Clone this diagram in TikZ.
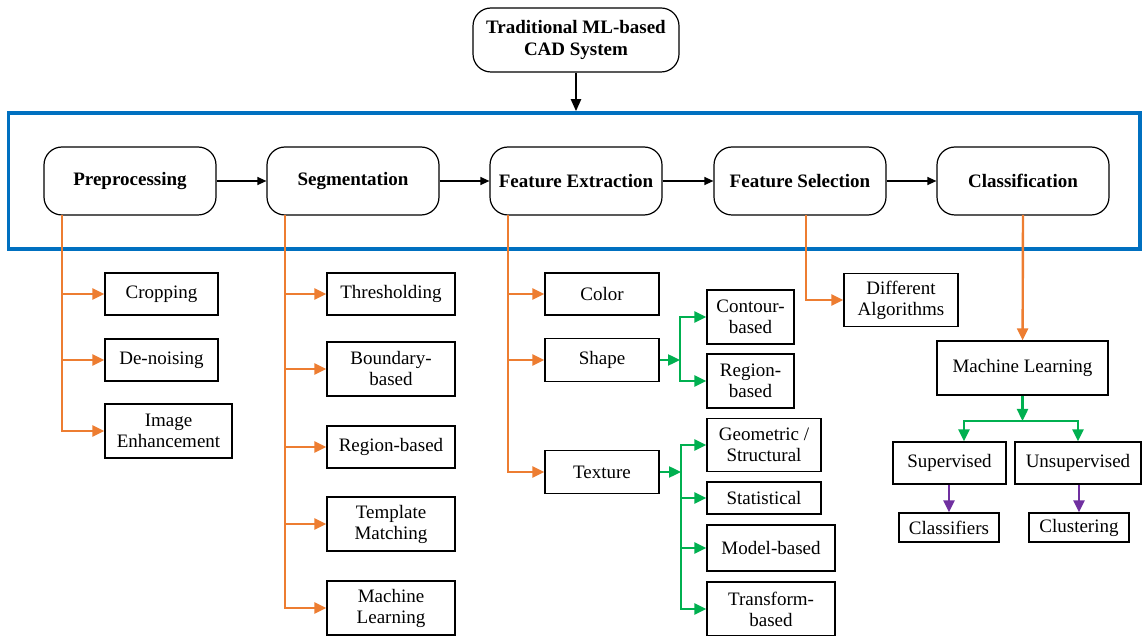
\documentclass[tikz,border=0pt]{standalone}
\usepackage{fontspec}
\setmainfont{Liberation Serif}
\usetikzlibrary{arrows.meta}
\definecolor{frameblue}{RGB}{0,112,192}
\definecolor{branchorange}{RGB}{237,125,49}
\definecolor{leafgreen}{RGB}{0,176,80}
\definecolor{algpurple}{RGB}{112,48,160}
\tikzset{
  stage/.style={draw, rounded corners=9pt, line width=0.6pt, minimum width=86pt, minimum height=34pt, inner sep=0pt, align=center, font=\fontsize{9.5}{11}\selectfont\bfseries},
  item/.style={draw, line width=0.6pt, inner sep=0pt, align=center},
  flow/.style={draw=black, line width=0.6pt, -{Triangle[length=4.5pt,width=4pt]}},
  oarrow/.style={draw=branchorange, line width=1.2pt, -{Triangle[length=6pt,width=5.5pt]}},
  garrow/.style={draw=leafgreen, line width=1.2pt, -{Triangle[length=6pt,width=5.5pt]}},
  parrow/.style={draw=algpurple, line width=1.2pt, -{Triangle[length=6pt,width=5.5pt]}}
}
\begin{document}
\begin{tikzpicture}[x=0.5pt, y=-0.5pt, font=\fontsize{9.5}{10.5}\selectfont]
	\useasboundingbox (0,0) rectangle (1142,636);

	\node[draw=frameblue, line width=1.8pt, minimum width=565.75pt, minimum height=68pt, inner sep=0pt] (frame) at (574.25,181) {};
	\node[stage, minimum width=103pt, minimum height=32pt] (sys) at (576,40) {Traditional ML-based\\CAD System};
	\draw[line width=1.1pt, -{Triangle[length=6pt,width=5pt]}] (sys) -- (sys |- frame.north);

	\node[stage] (pre) at (130,181) {Preprocessing};
	\node[stage] (seg) at (353,181) {Segmentation};
	\node[stage] (fext) at (576,181) {Feature Extraction};
	\node[stage] (fsel) at (800,181) {Feature Selection};
	\node[stage] (cls) at (1023,181) {Classification};
	\draw[flow] (pre) -- (seg);
	\draw[flow] (seg) -- (fext);
	\draw[flow] (fext) -- (fsel);
	\draw[flow] (fsel) -- (cls);

	\node[item, minimum width=56.5pt, minimum height=21pt] (crop) at (161.5,294) {Cropping};
	\node[item, minimum width=56.5pt, minimum height=21pt] (denoise) at (161.5,360) {De-noising};
	\node[item, minimum width=63.5pt, minimum height=27pt] (enhance) at (168.5,431) {Image\\Enhancement};
	\coordinate (pretrunk) at (62,215);
	\draw[oarrow] (pretrunk) |- (crop);
	\draw[oarrow] (pretrunk) |- (denoise);
	\draw[oarrow] (pretrunk) |- (enhance);

	\node[item, minimum width=64pt, minimum height=21pt] (thresh) at (391,294) {Thresholding};
	\node[item, minimum width=64pt, minimum height=27pt] (boundary) at (391,369) {Boundary-\\based};
	\node[item, minimum width=64pt, minimum height=21pt] (regseg) at (391,447) {Region-based};
	\node[item, minimum width=64pt, minimum height=27pt] (template) at (391,524) {Template\\Matching};
	\node[item, minimum width=64pt, minimum height=27pt] (mlseg) at (391,608) {Machine\\Learning};
	\coordinate (segtrunk) at (285,215);
	\draw[oarrow] (segtrunk) |- (thresh);
	\draw[oarrow] (segtrunk) |- (boundary);
	\draw[oarrow] (segtrunk) |- (regseg);
	\draw[oarrow] (segtrunk) |- (template);
	\draw[oarrow] (segtrunk) |- (mlseg);

	\node[item, minimum width=57pt, minimum height=21pt] (color) at (602,294) {Color};
	\node[item, minimum width=57pt, minimum height=21.5pt] (shape) at (602,360) {Shape};
	\node[item, minimum width=57pt, minimum height=21.5pt] (texture) at (602,472) {Texture};
	\coordinate (fexttrunk) at (508,215);
	\draw[oarrow] (fexttrunk) |- (color);
	\draw[oarrow] (fexttrunk) |- (shape);
	\draw[oarrow] (fexttrunk) |- (texture);

	\node[item, minimum width=43.5pt, minimum height=27pt] (contour) at (750.5,317) {Contour-\\based};
	\node[item, minimum width=43.5pt, minimum height=27pt] (regshape) at (750.5,381) {Region-\\based};
	\coordinate (shapesplit) at (680,360);
	\draw[garrow] (shape) -- (shapesplit);
	\draw[garrow] (shapesplit) |- (contour);
	\draw[garrow] (shapesplit) |- (regshape);

	\node[item, minimum width=57pt, minimum height=26.5pt] (geom) at (764,445) {Geometric /\\Structural};
	\node[item, minimum width=57pt, minimum height=16pt] (stat) at (764,498) {Statistical};
	\node[item, minimum width=64pt, minimum height=23pt] (model) at (771,548) {Model-based};
	\node[item, minimum width=64pt, minimum height=27pt] (transform) at (771,609) {Transform-\\based};
	\coordinate (texsplit) at (681,472);
	\draw[garrow] (texture) -- (texsplit);
	\draw[garrow] (texsplit) |- (geom);
	\draw[garrow] (texsplit) |- (stat);
	\draw[garrow] (texsplit) |- (model);
	\draw[garrow] (texsplit) |- (transform);

	\node[item, minimum width=57pt, minimum height=26.5pt] (diffalg) at (901,300) {Different\\Algorithms};
	\coordinate (fseltrunk) at (806,215);
	\draw[oarrow] (fseltrunk) |- (diffalg);

	\node[item, minimum width=85.5pt, minimum height=27pt] (mlcls) at (1022.5,368) {Machine Learning};
	\draw[oarrow] (cls.south |- fseltrunk) -- (mlcls);

	\node[item, minimum width=56.5pt, minimum height=21pt] (super) at (949.5,463) {Supervised};
	\node[item, minimum width=63pt, minimum height=21pt] (unsuper) at (1078,463) {Unsupervised};
	\coordinate (mlsplit) at (1022.5,421);
	\draw[garrow] (mlcls) -- (mlsplit);
	\draw[garrow] (mlsplit) -| ([xshift=7.25pt]super.north);
	\draw[garrow] (mlsplit) -| (unsuper);

	\node[item, minimum width=50pt, minimum height=14.5pt] (classifiers) at (949,527.5) {Classifiers};
	\node[item, minimum width=50pt, minimum height=14.5pt] (clustering) at (1079,527.5) {Clustering};
	\draw[parrow] (super.south -| classifiers) -- (classifiers);
	\draw[parrow] (unsuper.south -| clustering) -- (clustering);
\end{tikzpicture}
\end{document}
